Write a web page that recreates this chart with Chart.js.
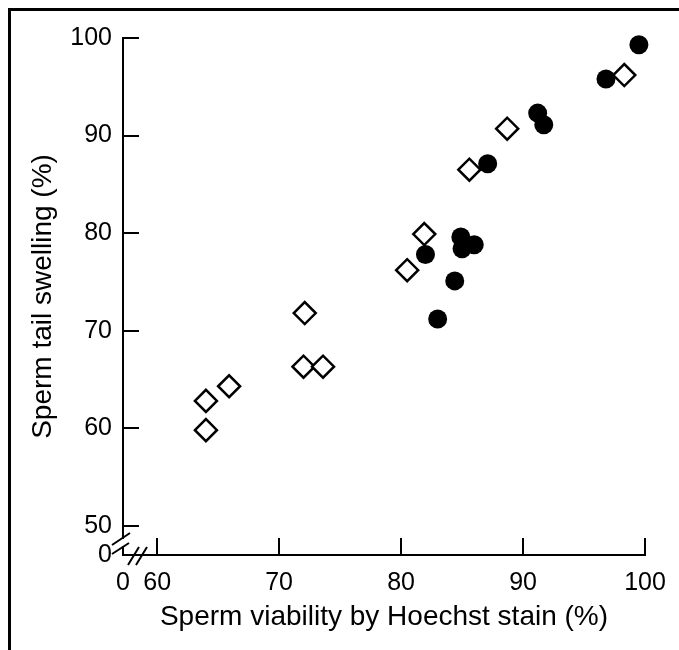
<!DOCTYPE html>
<html>
<head>
<meta charset="utf-8">
<script src="https://cdn.jsdelivr.net/npm/chart.js@4.4.1/dist/chart.umd.min.js"></script>
<style>
  html, body { margin: 0; padding: 0; background: #fff; overflow: hidden; }
  #wrap { position: relative; width: 679px; height: 650px; }
  #frame {
    position: absolute; left: 8px; top: 8px; right: 0; bottom: 0;
    border-left: 3px solid #000; border-top: 3px solid #000;
    pointer-events: none;
  }
</style>
</head>
<body>
<div id="wrap">
  <canvas id="swellChart"></canvas>
  <div id="frame"></div>
</div>
<script>
// Sperm viability (Hoechst, %) vs sperm tail swelling (%)
const filledX = [99.5, 96.8, 91.2, 91.7, 87.1, 84.9, 85.0, 86.0, 82.0, 84.4, 83.0];
const filledY = [99.3, 95.8, 92.3, 91.1, 87.1, 79.6, 78.4, 78.8, 77.8, 75.1, 71.2];

const openX = [98.3, 88.7, 85.6, 81.9, 80.5, 72.1, 72.0, 73.6, 65.9, 64.0, 64.0];
const openY = [96.2, 90.7, 86.5, 79.9, 76.2, 71.8, 66.3, 66.3, 64.3, 62.8, 59.8];

const xTicks = [60, 70, 80, 90, 100];
const yTicks = [50, 60, 70, 80, 90, 100];
const breakLabel = "0";

const xMin = 57.2, xMax = 100;
const yMin = 47.0, yMax = 100;

function toPoints(xs, ys) {
  return xs.map((x, i) => ({ x: x, y: ys[i] }));
}

// inward tick marks + the axis breaks near the origin
const axisExtras = {
  id: "axisExtras",
  afterDraw(chart) {
    const ctx = chart.ctx;
    const { left, bottom } = chart.chartArea;
    const xs = chart.scales.x, ys = chart.scales.y;
    ctx.save();
    ctx.strokeStyle = "#000";
    ctx.lineWidth = 2;
    ctx.beginPath();
    yTicks.forEach((v) => {
      const py = Math.round(ys.getPixelForValue(v));
      ctx.moveTo(left, py);
      ctx.lineTo(left + 16, py);
    });
    xTicks.forEach((v) => {
      const px = Math.round(xs.getPixelForValue(v));
      ctx.moveTo(px, bottom);
      ctx.lineTo(px, bottom - 17);
    });
    ctx.stroke();

    // gap in the y axis
    ctx.fillStyle = "#fff";
    ctx.fillRect(left - 3, bottom - 16, 6, 7);

    ctx.beginPath();
    // y break slashes
    ctx.moveTo(left - 11, bottom - 10);
    ctx.lineTo(left + 7, bottom - 22);
    ctx.moveTo(left - 11, bottom - 1);
    ctx.lineTo(left + 6, bottom - 12);
    // x break slashes
    ctx.moveTo(left + 5, bottom + 10);
    ctx.lineTo(left + 16, bottom - 8);
    ctx.moveTo(left + 13, bottom + 10);
    ctx.lineTo(left + 24, bottom - 8);
    ctx.stroke();
    ctx.restore();
  },
};

const tickFont = { family: "'Liberation Sans', Arial, sans-serif", size: 25 };
const titleFont = { family: "'Liberation Sans', Arial, sans-serif", size: 28 };

new Chart(document.getElementById("swellChart"), {
  type: "scatter",
  data: {
    datasets: [
      {
        label: "open",
        data: toPoints(openX, openY),
        pointStyle: "rectRot",
        pointRadius: 11,
        backgroundColor: "#fff",
        borderColor: "#000",
        borderWidth: 2.5,
        clip: false,
      },
      {
        label: "filled",
        data: toPoints(filledX, filledY),
        pointStyle: "circle",
        pointRadius: 9.5,
        backgroundColor: "#000",
        borderColor: "#000",
        borderWidth: 0,
        clip: false,
      },
    ],
  },
  options: {
    responsive: true,
    maintainAspectRatio: false,
    animation: false,
    events: [],
    layout: { padding: { left: 0, top: 38, right: 34, bottom: 0 } },
    plugins: { legend: { display: false }, tooltip: { enabled: false } },
    scales: {
      x: {
        type: "linear",
        min: xMin,
        max: xMax,
        grid: { display: false, drawTicks: false },
        border: { display: true, color: "#000", width: 2 },
        afterBuildTicks: (s) => {
          s.ticks = [{ value: xMin }].concat(xTicks.map((v) => ({ value: v })));
        },
        afterFit: (s) => { s.height = 95; },
        ticks: {
          autoSkip: false,
          maxRotation: 0,
          padding: 13,
          color: "#000",
          font: tickFont,
          callback: (v) => (v === xMin ? breakLabel : v),
        },
        title: {
          display: true,
          text: "Sperm viability by Hoechst stain (%)",
          color: "#000",
          font: titleFont,
          padding: { top: 0, bottom: 16 },
        },
      },
      y: {
        type: "linear",
        min: yMin,
        max: yMax,
        grid: { display: false, drawTicks: false },
        border: { display: true, color: "#000", width: 2 },
        afterBuildTicks: (s) => {
          s.ticks = [{ value: yMin }].concat(yTicks.map((v) => ({ value: v })));
        },
        afterFit: (s) => { s.width = 123; },
        ticks: {
          autoSkip: false,
          padding: 11,
          color: "#000",
          font: tickFont,
          callback: (v) => (v === yMin ? breakLabel : v),
        },
        title: {
          display: true,
          text: "Sperm tail swelling (%)",
          color: "#000",
          font: titleFont,
          padding: { top: 26, bottom: 0 },
        },
      },
    },
  },
  plugins: [axisExtras],
});
</script>
</body>
</html>
